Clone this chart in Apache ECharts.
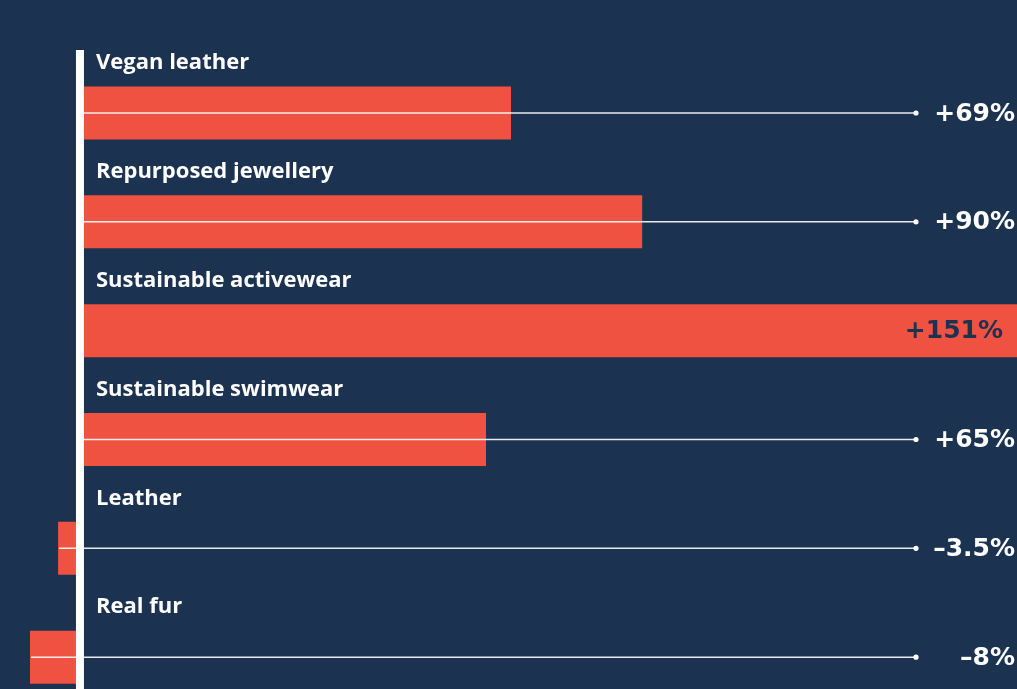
<!DOCTYPE html>
<html>
<head>
<meta charset="utf-8">
<script src="https://cdn.jsdelivr.net/npm/echarts@6/dist/echarts.min.js"></script>
<style>
html,body{margin:0;padding:0;background:#1b3350;}
#chart{width:1017px;height:689px;}
</style>
</head>
<body>
<div id="chart"></div>
<script>
const categories = ['Vegan leather', 'Repurposed jewellery', 'Sustainable activewear', 'Sustainable swimwear', 'Leather', 'Real fur'];
const values = [69, 90, 151, 65, -3.5, -8];
const valueLabels = ['+69%', '+90%', '+151%', '+65%', '–3.5%', '–8%'];

const BG = '#1b3350';
const RED = '#f05242';
const CAT_FONT = '"Open Sans", "Noto Sans", sans-serif';
const VAL_FONT = '"DejaVu Sans", "Open Sans", sans-serif';

const chart = echarts.init(document.getElementById('chart'), null, {renderer: 'canvas'});

chart.setOption({
  backgroundColor: BG,
  animation: false,
  grid: {left: 0, width: 1017, top: 58.6, height: 653, containLabel: false, outerBoundsMode: 'none'},
  xAxis: {type: 'value', min: -12.8, max: 150, show: false},
  yAxis: {type: 'category', data: categories, inverse: true, show: false},
  series: [
    {
      type: 'bar',
      data: values,
      barWidth: 53,
      itemStyle: {color: RED},
      silent: true,
      z: 2
    },
    {
      type: 'custom',
      z: 5,
      silent: true,
      data: values.map((v, i) => [v, i]),
      renderItem: function (params, api) {
        const v = api.value(0), i = api.value(1);
        const zero = api.coord([0, i]);
        const cy = zero[1];
        const barEnd = api.coord([v, i])[0];
        const start = api.coord([Math.min(0, v), i])[0] + 1;
        const lineEnd = 916;
        const labelRight = 1015;
        const inside = barEnd > lineEnd;
        const children = [];
        if (!inside) {
          children.push({
            type: 'line',
            shape: {x1: start, y1: cy, x2: lineEnd, y2: cy},
            style: {stroke: 'rgba(255,255,255,0.9)', lineWidth: 1.5}
          });
          children.push({
            type: 'circle',
            shape: {cx: lineEnd, cy: cy, r: 2.6},
            style: {fill: '#ffffff'}
          });
        }
        children.push({
          type: 'text',
          style: {
            text: valueLabels[i],
            x: inside ? labelRight - 12 : labelRight,
            y: cy + 1,
            align: 'right',
            verticalAlign: 'middle',
            fill: inside ? BG : '#ffffff',
            font: 'bold 25px ' + VAL_FONT
          }
        });
        children.push({
          type: 'text',
          style: {
            text: categories[i],
            x: zero[0] + 16,
            y: cy - 50,
            align: 'left',
            verticalAlign: 'middle',
            fill: '#ffffff',
            font: 'bold 22px ' + CAT_FONT
          }
        });
        if (i === 0) {
          children.push({
            type: 'rect',
            shape: {x: zero[0] - 4, y: cy - 63, width: 8, height: 689 - (cy - 63)},
            style: {fill: '#ffffff'}
          });
        }
        return {type: 'group', children: children};
      }
    }
  ]
});
</script>
</body>
</html>
